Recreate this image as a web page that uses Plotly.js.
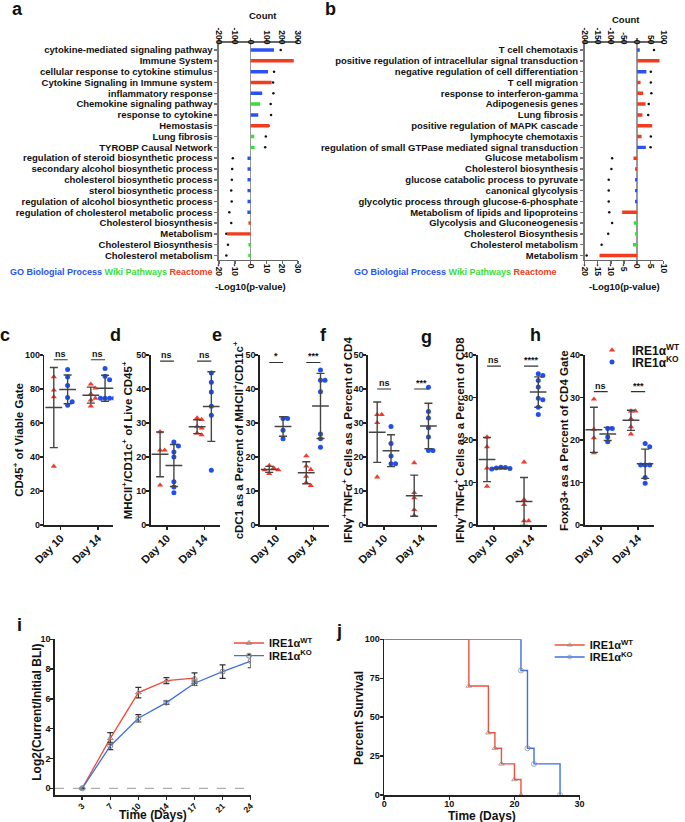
<!DOCTYPE html>
<html>
<head>
<meta charset="utf-8">
<script src="https://cdn.plot.ly/plotly-3.0.1.min.js"></script>
<style>body{margin:0;background:#fff}#chart{width:685px;height:822px}</style>
</head>
<body>
<div id="chart"></div>
<script>
// ---- panel a: enrichment, count bars + -log10(p) dots
var aTerms = ['cytokine-mediated signaling pathway', 'Immune System', 'cellular response to cytokine stimulus',
  'Cytokine Signaling in Immune system', 'inflammatory response', 'Chemokine signaling pathway',
  'response to cytokine', 'Hemostasis', 'Lung fibrosis', 'TYROBP Causal Network',
  'regulation of steroid biosynthetic process', 'secondary alcohol biosynthetic process',
  'cholesterol biosynthetic process', 'sterol biosynthetic process', 'regulation of alcohol biosynthetic process',
  'regulation of cholesterol metabolic process', 'Cholesterol biosynthesis', 'Metabolism',
  'Cholesterol Biosynthesis', 'Cholesterol metabolism'];
var aCount = [148, 273, 110, 133, 73, 60, 48, 117, 23, 25, -20, -20, -20, -20, -20, -21, -14, -150, -14, -15];
var aLogP = [19.0, 15.4, 14.8, 14.2, 14.4, 12.7, 12.9, 11.3, 9.6, 9.2, -11.3, -11.7, -11.9, -12.3, -12.0, -13.5, -12.3, -15.4, -14.4, -15.4];
var aSource = ['GO', 'React', 'GO', 'React', 'GO', 'Wiki', 'GO', 'React', 'Wiki', 'Wiki',
  'GO', 'GO', 'GO', 'GO', 'GO', 'GO', 'React', 'React', 'Wiki', 'Wiki'];
var aCountTicks = [-200, -100, 0, 100, 200, 300];
var aPTicks = [-20, -10, 0, 10, 20, 30];

// ---- panel b
var bTerms = ['T cell chemotaxis', 'positive regulation of intracellular signal transduction',
  'negative regulation of cell differentiation', 'T cell migration', 'response to interferon-gamma',
  'Adipogenesis genes', 'Lung fibrosis', 'positive regulation of MAPK cascade', 'lymphocyte chemotaxis',
  'regulation of small GTPase mediated signal transduction', 'Glucose metabolism', 'Cholesterol biosynthesis',
  'glucose catabolic process to pyruvate', 'canonical glycolysis', 'glycolytic process through glucose-6-phosphate',
  'Metabolism of lipids and lipoproteins', 'Glycolysis and Gluconeogenesis', 'Cholesterol Biosynthesis',
  'Cholesterol metabolism', 'Metabolism'];
var bCount = [10, 85, 35, 13, 23, 32, 20, 57, 17, 33, -14, -8, -8, -8, -8, -57, -13, -8, -16, -143];
var bLogP = [6.4, 5.8, 5.2, 5.2, 5.4, 4.4, 4.2, 4.9, 5.2, 5.1, -9.5, -9.8, -10.8, -10.8, -10.8, -10.6, -9.5, -11.0, -13.5, -19.2];
var bSource = ['GO', 'React', 'GO', 'React', 'React', 'React', 'React', 'React', 'React', 'GO',
  'React', 'React', 'GO', 'GO', 'GO', 'React', 'Wiki', 'Wiki', 'Wiki', 'React'];
var bCountTicks = [-200, -150, -100, -50, 0, 50, 100];
var bPTicks = [-20, -15, -10, -5, 0, 5, 10];

// ---- panels c-h: [WT d10, KO d10, WT d14, KO d14]
var dayLabels = ['Day 10', 'Day 14'];
var cVals = [[87.2, 79.3, 75.3, 34.5], [91.5, 87, 82, 75, 72.5, 70.5], [82.8, 80.5, 77, 74.5, 73.5, 70], [92, 87.5, 85.5, 74.5, 74.5, 74.5, 74.5]];
var dVals = [[27.4, 22, 22, 11.7], [24.4, 23.2, 21.5, 20, 12.7, 11.2, 9.5], [31.5, 31, 29, 28.5, 27, 26.5], [44.7, 42, 39.1, 34.9, 32.3, 16.1]];
var eVals = [[17.5, 16.8, 16.2, 16.2, 15.1], [31.3, 31.3, 27.9, 25.4], [20.3, 17.3, 16.3, 14.3, 12.5, 11.6], [45.6, 42.6, 42.6, 39.2, 26.8, 25.4, 22.9]];
var fVals = [[32.5, 32.5, 30.1, 14.1], [29, 24, 20.3, 18, 18], [18.3, 9.5, 8, 4.5, 2.8], [40.5, 33.4, 31.5, 28.6, 25.9, 21.9, 21.9]];
var gVals = [[20.7, 18.4, 13.4, 9.1], [13.6, 13.5, 13.4, 13.3, 13.2], [14.8, 6, 4.8, 1, 1], [35.6, 35.2, 34, 32.5, 29.8, 29.5, 27.7, 26]];
var hVals = [[29.6, 22.5, 20.5, 17], [22.7, 22.7, 20.7, 19.6], [26.8, 26.8, 25, 23.1, 21.4], [19.2, 18.4, 14.1, 14.1, 14.1, 11.2, 9.8]];
var dotTitles = ['CD45<sup>+</sup> of Viable Gate', 'MHCII<sup>+</sup>/CD11c<sup>+</sup> of Live CD45<sup>+</sup>',
  'cDC1 as a Percent of MHCII<sup>+</sup>/CD11c<sup>+</sup>', 'IFNγ<sup>+</sup>TNFα<sup>+</sup> Cells as a Percent of CD4',
  'IFNγ<sup>+</sup>TNFα<sup>+</sup> Cells as a Percent of CD8', 'Foxp3+ as a Percent of CD4 Gate'];
var dotSig = [['ns', 'ns'], ['ns', 'ns'], ['*', '***'], ['ns', '***'], ['ns', '****'], ['ns', '***']];
var dotSigY = [97.2, 48.2, 47.8, 40, 37.4, 31.4];
var dotYMax = [100, 50, 50, 50, 40, 40];

// ---- panel i: tumour growth
var iDays = ['3', '7', '10', '14', '17', '21', '24'];
var iWT = [0, 3.35, 6.42, 7.23, 7.4];
var iWTsem = [0, 0.38, 0.35, 0.2, 0.35];
var iKO = [0, 2.84, 4.7, 5.75, 7.05, 7.83, 8.54];
var iKOsem = [0, 0.25, 0.25, 0.12, 0.15, 0.45, 0.45];

// ---- panel j: survival
var jWTt = [0, 13, 16, 17, 18, 20, 21];
var jWTs = [100, 70, 40, 30, 20, 10, 0];
var jKOt = [0, 21, 22, 23, 27];
var jKOs = [100, 80, 30, 20, 0];

var W = 685, H = 822;
var FONT = 'Arial, "Liberation Sans", sans-serif';
var RED = '#f23b2b', BLUE = '#1f4ff0';
var srcColor = {GO: '#2b52f2', Wiki: '#35e035', React: '#f23c1e'};

function bf(size, color) { return {family: FONT, size: size, color: color || '#111', weight: 'bold'}; }
function dx(l, r) { return [l / W, r / W]; }
function dy(t, b) { return [1 - b / H, 1 - t / H]; }
function hyph(v) { return String(v); }   // plain hyphen minus, as in the figure
function mean(a) { return a.reduce(function (s, v) { return s + v; }, 0) / a.length; }
function sd(a) {
  var m = mean(a);
  return Math.sqrt(a.reduce(function (s, v) { return s + (v - m) * (v - m); }, 0) / (a.length - 1));
}

// simple deterministic beeswarm, returns x offsets (axis units)
function swarm(vals, ppy, ppx) {
  var gap = 4.6, placed = [], off = [];
  vals.forEach(function (v, i) {
    var y = v * ppy;
    for (var k = 0; k < 12; k++) {
      var o = k === 0 ? 0 : (k % 2 ? 1 : -1) * Math.ceil(k / 2);
      var hit = placed.some(function (p) {
        var ddx = (o - p.o) * gap, ddy = y - p.y;
        return ddx * ddx + ddy * ddy < gap * gap * 0.95;
      });
      if (!hit) { placed.push({o: o, y: y}); off[i] = o * gap / ppx; return; }
    }
    off[i] = 0;
  });
  return off;
}

function axisBase(extra) {
  var a = {showline: true, linecolor: '#222', linewidth: 1.6, ticks: 'outside', ticklen: 3, tickwidth: 1.4,
    tickcolor: '#222', showgrid: false, zeroline: false, tickfont: bf(9), ticklabelstandoff: -2, fixedrange: true};
  for (var k in extra) a[k] = extra[k];
  return a;
}

var traces = [];
var layout = {
  width: W, height: H, margin: {l: 0, r: 0, t: 0, b: 0},
  paper_bgcolor: '#fff', plot_bgcolor: 'rgba(0,0,0,0)',
  font: bf(9), hovermode: false, showlegend: true,
  annotations: [], shapes: []
};

function note(text, x, y, size, more) {
  var a = {text: text, x: x / W, y: 1 - y / H, xref: 'paper', yref: 'paper', showarrow: false,
    xanchor: 'center', yanchor: 'middle', font: bf(size)};
  for (var k in more) a[k] = more[k];
  layout.annotations.push(a);
}

// ---- enrichment panels a & b
function enrich(terms, count, logp, src, px, cx, py, left, right, pTicks, cTicks) {
  traces.push({type: 'bar', orientation: 'h', x: count, y: terms, xaxis: cx, yaxis: py, width: 0.32,
    marker: {color: src.map(function (s) { return srcColor[s]; })}, showlegend: false});
  traces.push({type: 'scatter', mode: 'markers', x: logp, y: terms, xaxis: px, yaxis: py,
    marker: {size: 2.5, color: '#111'}, showlegend: false});
  var pxName = 'xaxis' + px.slice(1), cxName = 'xaxis' + cx.slice(1), pyName = 'yaxis' + py.slice(1);
  layout[pxName] = axisBase({domain: dx(left, right), anchor: py, range: [pTicks[0], pTicks[pTicks.length - 1]],
    tickvals: pTicks, ticktext: pTicks.map(hyph), tickangle: 90, tickfont: bf(8.5), linecolor: '#666', tickcolor: '#666',
    zeroline: true, zerolinecolor: '#9a9a9a', zerolinewidth: 1.5});
  layout[cxName] = axisBase({overlaying: px, side: 'top', anchor: py, range: [cTicks[0], cTicks[cTicks.length - 1]],
    tickvals: cTicks, ticktext: cTicks.map(hyph), tickangle: 90, tickfont: bf(8.5), linecolor: '#666',
    tickcolor: '#666', ticklabelstandoff: -9});
  layout[pyName] = axisBase({domain: dy(43, 259.5), anchor: px, type: 'category', categoryorder: 'array',
    categoryarray: terms, tickmode: 'array', tickvals: terms, ticktext: terms, range: [19.37, -0.65],
    tickfont: bf(9.5), linecolor: '#777', tickcolor: '#777', ticklabelstandoff: 0});
}
enrich(aTerms, aCount, aLogP, aSource, 'x', 'x2', 'y', 222, 302, aPTicks, aCountTicks);
enrich(bTerms, bCount, bLogP, bSource, 'x3', 'x4', 'y2', 592.3, 672.3, bPTicks, bCountTicks);

var srcLegend = '<span style="color:' + srcColor.GO + '">GO Biologial Process</span> ' +
  '<span style="color:' + srcColor.Wiki + '">Wiki Pathways</span> ' +
  '<span style="color:' + srcColor.React + '">Reactome</span>';
note(srcLegend, 112.5, 272, 9);
note(srcLegend, 461.5, 272.3, 9);
note('Count', 266, 16, 9.5);
note('Count', 634.7, 19, 9.5);
note('-Log10(p-value)', 254, 286, 9.5);
note('-Log10(p-value)', 632.5, 286.5, 9.5);

// ---- dot plots c-h
var dotData = [cVals, dVals, eVals, fVals, gVals, hVals];
var dotLeft = [45, 152.7, 263.3, 372.7, 484, 592.3];
var dotTitleX = [18, 129, 241.5, 351.5, 465, 571.5];
var slot = [0, 1, 2.68, 3.71];   // WT10, KO10, WT14, KO14
dotData.forEach(function (groups, k) {
  var xr = 'x' + (5 + k), yr = 'y' + (3 + k);
  var ppy = 170 / dotYMax[k], ppx = 14;
  var wx = [], wy = [], kx = [], ky = [];
  groups.forEach(function (vals, g) {
    var off = swarm(vals, ppy, ppx);
    vals.forEach(function (v, i) {
      if (g % 2 === 0) { wx.push(slot[g] + off[i]); wy.push(v); }
      else { kx.push(slot[g] + off[i]); ky.push(v); }
    });
  });
  traces.push({type: 'scatter', mode: 'markers', x: wx, y: wy, xaxis: xr, yaxis: yr, name: 'IRE1α<sup>WT</sup>',
    marker: {symbol: 'triangle-up', size: 5.5, color: RED}, showlegend: k === 5, legend: 'legend'});
  traces.push({type: 'scatter', mode: 'markers', x: kx, y: ky, xaxis: xr, yaxis: yr, name: 'IRE1α<sup>KO</sup>',
    marker: {symbol: 'circle', size: 5, color: BLUE}, showlegend: k === 5, legend: 'legend2'});
  traces.push({type: 'scatter', mode: 'markers', x: slot, y: groups.map(mean), xaxis: xr, yaxis: yr,
    marker: {symbol: 'line-ew', size: 12, color: '#444', line: {width: 1.5, color: '#444'}},
    error_y: {type: 'data', array: groups.map(sd), color: '#444', thickness: 1.4, width: 4}, showlegend: false});
  var sy = dotSigY[k];
  traces.push({type: 'scatter', mode: 'lines', x: [slot[0], slot[1], null, slot[2], slot[3]], y: [sy, sy, null, sy, sy],
    xaxis: xr, yaxis: yr, line: {color: '#333', width: 1.2}, showlegend: false});
  [0, 1].forEach(function (j) {
    layout.annotations.push({text: dotSig[k][j], x: (slot[2 * j] + slot[2 * j + 1]) / 2, y: sy, xref: xr, yref: yr,
      showarrow: false, yanchor: 'bottom', yshift: -1, font: bf(9)});
  });
  var s = dotLeft[k];
  layout['xaxis' + (5 + k)] = axisBase({domain: dx(s, s + 70), anchor: yr, range: [-0.68, 4.32],
    tickvals: [(slot[0] + slot[1]) / 2, (slot[2] + slot[3]) / 2], ticktext: dayLabels, tickangle: -45, tickfont: bf(11)});
  layout['yaxis' + (3 + k)] = axisBase({domain: dy(355, 525), anchor: xr, range: [0, dotYMax[k]], dtick: k ? 10 : 20});
  note(dotTitles[k], dotTitleX[k], 440, 11.5, {textangle: -90});
});

// ---- panel i
traces.push({type: 'scatter', mode: 'lines+markers', x: iDays.slice(0, iWT.length), y: iWT, xaxis: 'x11', yaxis: 'y9',
  name: 'IRE1α<sup>WT</sup>', legend: 'legend3', line: {color: '#f04a38', width: 1.3},
  marker: {symbol: 'triangle-up-open', size: 5, color: '#888', line: {width: 1}},
  error_y: {type: 'data', array: iWTsem, color: '#333', thickness: 1.2, width: 3}});
traces.push({type: 'scatter', mode: 'lines+markers', x: iDays, y: iKO, xaxis: 'x11', yaxis: 'y9',
  name: 'IRE1α<sup>KO</sup>', legend: 'legend4', line: {color: '#3f6fe6', width: 1.3},
  marker: {symbol: 'circle-open', size: 5, color: '#888', line: {width: 1}},
  error_y: {type: 'data', array: iKOsem, color: '#333', thickness: 1.2, width: 3}});
layout.xaxis11 = axisBase({domain: dx(55.7, 254), anchor: 'y9', type: 'category', categoryorder: 'array',
  categoryarray: iDays, range: [-0.97, 6], tickangle: -45, tickfont: bf(8.5)});
layout.yaxis9 = axisBase({domain: dy(639.3, 795), anchor: 'x11', range: [-0.45, 10], dtick: 2});
layout.shapes.push({type: 'line', xref: 'x11 domain', yref: 'y9', x0: 0, x1: 1, y0: 0, y1: 0,
  line: {color: '#999', width: 1, dash: 'dash'}});
note('Log2(Current/Initial BLI)', 37.5, 712.7, 12, {textangle: -90});
note('Time (Days)', 155, 815, 12);

// ---- panel j (KO first so the WT line sits on top where they share 100%)
function sizes(t) { return t.map(function (v, i) { return i ? 5 : 0; }); }
traces.push({type: 'scatter', mode: 'lines+markers', x: jKOt, y: jKOs, xaxis: 'x12', yaxis: 'y10',
  name: 'IRE1α<sup>KO</sup>', legend: 'legend6', line: {color: '#3d6fe8', width: 1.4, shape: 'hv'},
  marker: {symbol: 'circle-open', size: sizes(jKOt), color: '#888', line: {width: 1}}});
traces.push({type: 'scatter', mode: 'lines+markers', x: jWTt, y: jWTs, xaxis: 'x12', yaxis: 'y10',
  name: 'IRE1α<sup>WT</sup>', legend: 'legend5', line: {color: '#f0503c', width: 1.4, shape: 'hv'},
  marker: {symbol: 'triangle-up-open', size: sizes(jWTt), color: '#888', line: {width: 1}}});
layout.xaxis12 = axisBase({domain: dx(389.3, 587.3), anchor: 'y10', range: [0, 30], dtick: 10, ticklabelstandoff: -3});
layout.yaxis10 = axisBase({domain: dy(639.3, 795), anchor: 'x12', range: [0, 100], dtick: 25});
note('Percent Survival', 364.5, 718.3, 12, {textangle: -90});
note('Time (Days)', 488.8, 815.5, 12);

// ---- legends (one per entry so the rows sit tight)
function legendAt(textLeft, cy, size) {
  return {x: (textLeft - 40) / W, y: 1 - cy / H, xanchor: 'left', yanchor: 'middle', bgcolor: 'rgba(0,0,0,0)',
    borderwidth: 0, font: bf(size), itemwidth: 30};
}
layout.legend = legendAt(640, 350, 12);
layout.legend2 = legendAt(640, 362, 12);
layout.legend3 = legendAt(272, 643, 11);
layout.legend4 = legendAt(272, 655.7, 11);
layout.legend5 = legendAt(597, 645, 11);
layout.legend6 = legendAt(597, 657, 11);

// ---- panel letters
[['a', 18, 8.5], ['b', 335, 8.5], ['c', 5, 335.5], ['d', 117, 335], ['e', 220, 335.5], ['f', 327.5, 335],
 ['g', 431.7, 336.5], ['h', 542.5, 335], ['i', 19.5, 625], ['j', 344, 631]].forEach(function (l) {
  note(l[0], l[1], l[2], 18);
});

Plotly.newPlot('chart', traces, layout, {staticPlot: true, displayModeBar: false});
</script>
</body>
</html>
